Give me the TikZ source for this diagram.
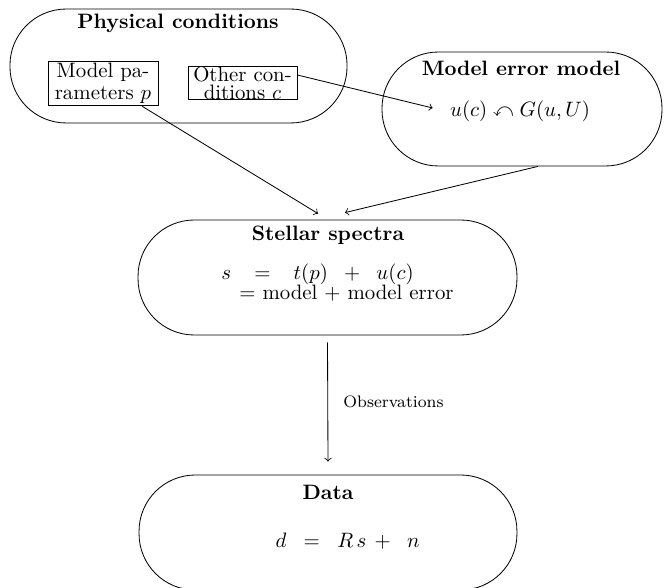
\documentclass[tikz,border=0pt]{standalone}
\usepackage{amssymb}
\usetikzlibrary{calc}
\begin{document}
\begin{tikzpicture}[x=0.48pt,y=-0.48pt,
  stadium/.style={draw, rounded corners=27pt, minimum height=54.7pt, inner sep=0pt},
  titletext/.style={font=\bfseries, inner sep=0pt},
  pbox/.style={draw, align=center, inner sep=1pt},
  conn/.style={->}]
\useasboundingbox (0,0) rectangle (667,588);
% stadiums
\node[stadium, minimum width=161.8pt] (pc) at (178.5,66) {};
\node[stadium, minimum width=134.4pt] (mem) at (522,109) {};
\node[stadium, minimum width=181.9pt, minimum height=55.2pt] (ss) at (327.5,277.5) {};
\node[stadium, minimum width=181.4pt, minimum height=55.2pt] (ds) at (328,532.5) {};
% titles
\node[titletext] (pct) at (178,23) {Physical conditions};
\node[titletext] (memt) at (521,68) {Model error model};
\node[titletext] (sst) at (328,235) {Stellar spectra};
\node[titletext] (dst) at (328,492) {Data};
% inner boxes
\node[pbox, minimum width=52.8pt, minimum height=17.8pt] (mp) at (103,83.5) {Model pa-\\[-1.5pt]rameters $p$};
\node[pbox, minimum width=52.3pt, minimum height=14.4pt, inner sep=0pt] (oc) at (242.5,83) {Other con-\\[-3.5pt]ditions $c$};
% formulas
\node[inner sep=0pt] (uf) at (520,111) {$u(c) \curvearrowleft G(u,U)$};
\node[inner sep=0pt] (sf1) at (317.5,274) {$s \;\;\;=\;\;\; t(p) \;\;+\;\; u(c)$};
\node[inner sep=0pt] (sf2) at (346.5,293) {$=$ model $+$ model error};
\node[inner sep=0pt] (df) at (347.5,541) {$d \;\;=\;\; R\,s \,+\;\; n$};
% connectors
\coordinate (tipu) at ($(uf.west)+(-17,-3)$);
\draw[conn] ($(oc.east)+(0,-8)$) -- (tipu);
\draw[conn] ($(mp.south)+(39,0)$) -- ($(ss.north)+(-9.5,-6)$);
\draw[conn] ($(mem.south)+(16,0)$) -- ($(ss.north)+(17.5,-7)$);
\draw[conn] ($(ss.south)+(0,7)$) -- node[right, font=\footnotesize, xshift=4pt] (obs) {Observations} ($(ds.north)+(0,-13)$);
\end{tikzpicture}
\end{document}
